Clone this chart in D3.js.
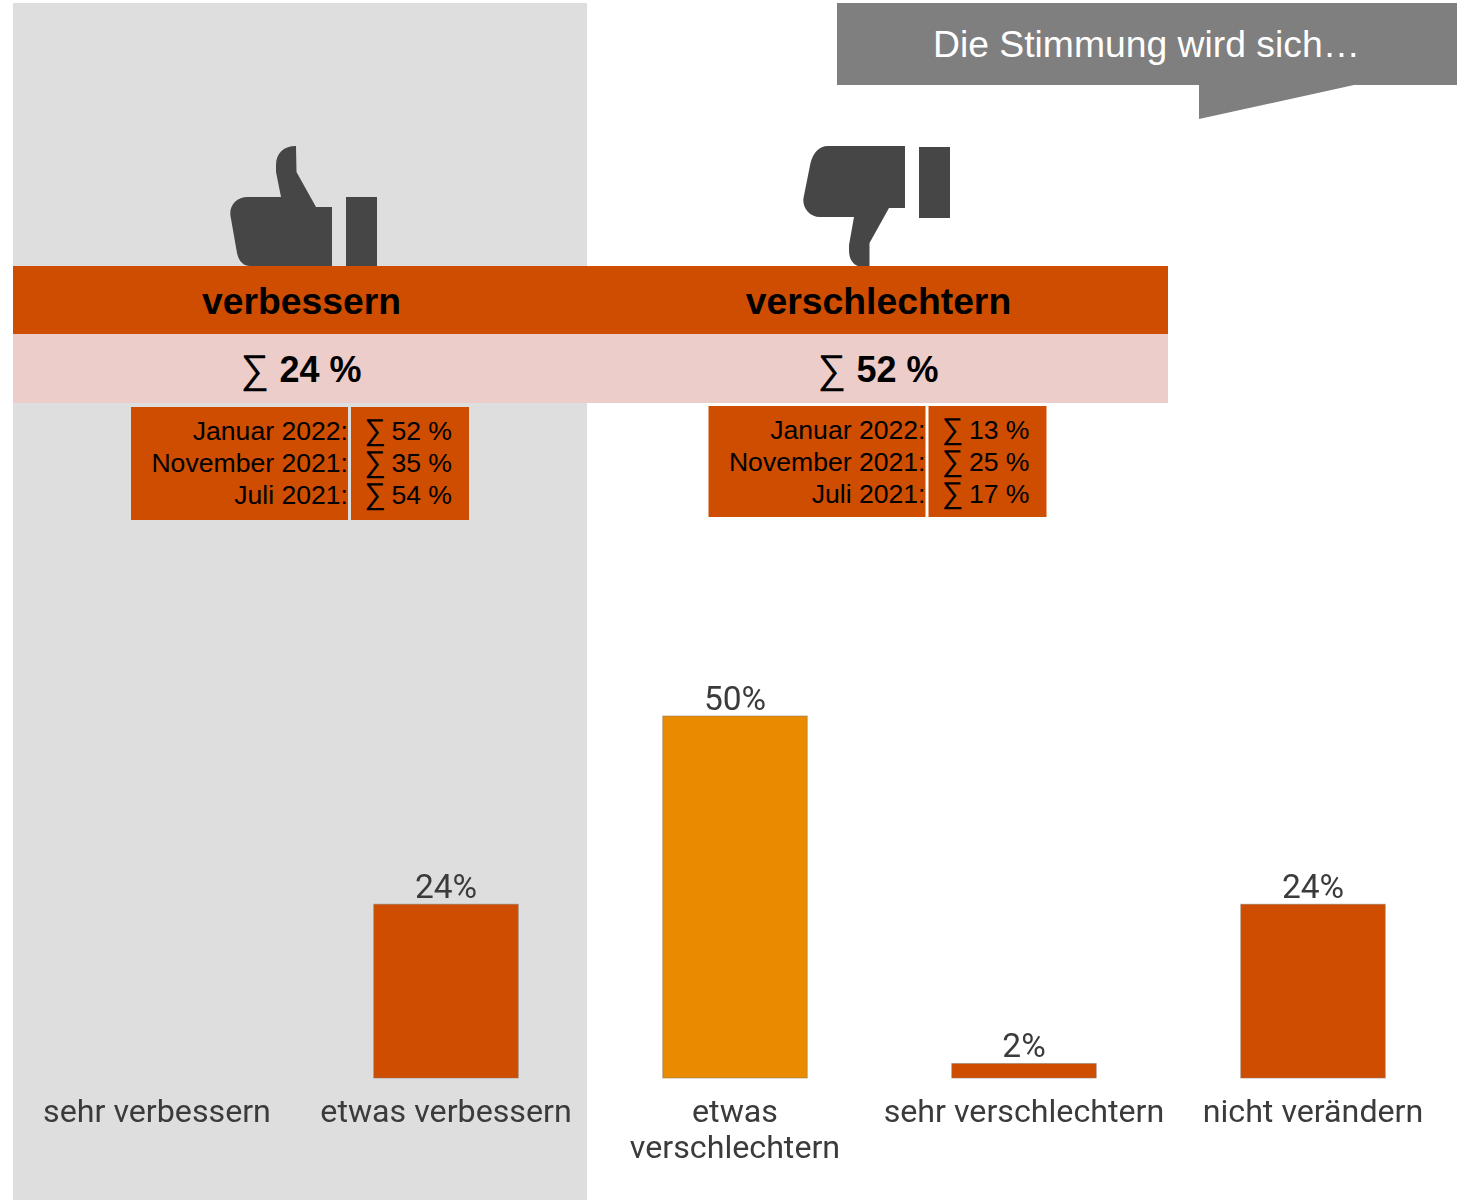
<!DOCTYPE html>
<html lang="de">
<head>
<meta charset="utf-8">
<title>Die Stimmung wird sich…</title>
<script src="https://cdn.jsdelivr.net/npm/d3@7/dist/d3.min.js"></script>
<style>
  html, body { margin: 0; padding: 0; background: #fff; }
  svg { display: block; }
  text { font-family: "Liberation Sans", Arial, sans-serif; }
  .chart text { font-family: Roboto, sans-serif; fill: #3a3a3a; }
</style>
</head>
<body>
<svg id="chart" width="1471" height="1200"></svg>
<script>
// Survey answers and their shares in percent
const categories = ["sehr verbessern", "etwas verbessern", "etwas verschlechtern", "sehr verschlechtern", "nicht verändern"];
const shares = [null, 24, 50, 2, 24];
const barColors = ["#cf4d00", "#cf4d00", "#e98a00", "#cf4d00", "#cf4d00"];

// Group headings and their totals
const groupNames = ["verbessern", "verschlechtern"];
const groupTotals = [24, 52];
const groupCenters = [302, 879];

// Totals of earlier survey waves
const waves = ["Januar 2022:", "November 2021:", "Juli 2021:"];
const improveHistory = [52, 35, 54];
const worsenHistory = [13, 25, 17];

const ORANGE = "#cf4d00";
const svg = d3.select("#chart");

// The column chart is a slightly soft raster in the slide
svg.append("defs").append("filter")
  .attr("id", "soft")
  .attr("x", "-5%").attr("y", "-5%").attr("width", "110%").attr("height", "110%")
  .append("feGaussianBlur").attr("stdDeviation", 0.7);

// Grey panel behind the "improve" half
svg.append("rect").attr("x", 13).attr("y", 3).attr("width", 574).attr("height", 1197).attr("fill", "#dedede");

// Speech-bubble heading
svg.append("path")
  .attr("d", "M837,3H1457V85H1354L1199,119V85H837Z")
  .attr("fill", "#7f7f7f");
svg.append("text")
  .attr("x", 1146.5).attr("y", 57)
  .attr("text-anchor", "middle")
  .attr("font-size", 37.3)
  .attr("fill", "#fff")
  .text("Die Stimmung wird sich…");

// Thumb icons
const ICON = "#464646";
svg.append("path")
  .attr("d", "M296,146C284,146 276,153 276,165V172L281,197H248C236,197 229,206 230.5,216L237,253C239,262 244,266 250,266H332V207H316L296.5,172Z")
  .attr("fill", ICON);
svg.append("rect").attr("x", 346).attr("y", 197).attr("width", 31).attr("height", 69).attr("fill", ICON);
svg.append("path")
  .attr("d", "M905,146V208H889L869.5,243V266H858C852,264 849,258 849,250V245L854,217H820C809,217 802,207 803.5,198L810.5,163C813,153 819,146 828,146Z")
  .attr("fill", ICON);
svg.append("rect").attr("x", 919).attr("y", 147).attr("width", 31).attr("height", 71).attr("fill", ICON);

// Heading band and totals band
svg.append("rect").attr("x", 13).attr("y", 266).attr("width", 1155).attr("height", 68).attr("fill", ORANGE);
svg.append("rect").attr("x", 13).attr("y", 334).attr("width", 1155).attr("height", 69).attr("fill", "#edcdca");

groupNames.forEach((name, i) => {
  svg.append("text")
    .attr("x", groupCenters[i] - 0.5).attr("y", 314)
    .attr("text-anchor", "middle")
    .attr("font-size", 37.3).attr("font-weight", 700).attr("fill", "#000")
    .text(name);
  svg.append("text")
    .attr("x", groupCenters[i] - 61.5).attr("y", 383)
    .attr("font-size", 40).attr("fill", "#000")
    .text("∑");
  svg.append("text")
    .attr("x", groupCenters[i] + 59.5).attr("y", 382)
    .attr("text-anchor", "end")
    .attr("font-size", 36).attr("font-weight", 700).attr("fill", "#000")
    .text(`${groupTotals[i]} %`);
});

// Tables with the earlier waves
function waveTable(x, top, height, firstBaseline, history) {
  const g = svg.append("g");
  g.append("rect").attr("x", x).attr("y", top).attr("width", 217).attr("height", height).attr("fill", ORANGE);
  g.append("rect").attr("x", x + 220).attr("y", top).attr("width", 118).attr("height", height).attr("fill", ORANGE);
  waves.forEach((wave, i) => {
    const y = firstBaseline + i * 32;
    g.append("text")
      .attr("x", x + 217).attr("y", y)
      .attr("text-anchor", "end")
      .attr("font-size", 26.6).attr("fill", "#000")
      .text(wave);
    g.append("text")
      .attr("x", x + 233.5).attr("y", y)
      .attr("font-size", 30).attr("fill", "#000")
      .text("∑");
    g.append("text")
      .attr("x", x + 321).attr("y", y)
      .attr("text-anchor", "end")
      .attr("font-size", 26.6).attr("fill", "#000")
      .text(`${history[i]} %`);
  });
}
waveTable(131, 407, 113, 440, improveHistory);
waveTable(708.5, 406, 111, 439, worsenHistory);

// Column chart
const x = d3.scaleBand()
  .domain(categories)
  .range([12.5, 1457.5])
  .paddingInner(0.5)
  .paddingOuter(0.25);
const y = d3.scaleLinear().domain([0, 50]).range([1078, 716]);

const chart = svg.append("g").attr("class", "chart").attr("filter", "url(#soft)");
const rows = categories.map((c, i) => ({ c, v: shares[i], color: barColors[i] }));

chart.selectAll("rect")
  .data(rows.filter(d => d.v !== null))
  .join("rect")
  .attr("x", d => x(d.c))
  .attr("y", d => y(d.v))
  .attr("width", x.bandwidth())
  .attr("height", d => y(0) - y(d.v))
  .attr("fill", d => d.color)
  .attr("stroke", "#8a7a6a")
  .attr("stroke-opacity", 0.55)
  .attr("stroke-width", 1);

chart.selectAll("text.value")
  .data(rows.filter(d => d.v !== null))
  .join("text")
  .attr("class", "value")
  .attr("x", d => x(d.c) + x.bandwidth() / 2)
  .attr("y", d => y(d.v) - 6.5)
  .attr("text-anchor", "middle")
  .attr("font-size", 33.5)
  .text(d => `${d.v}%`);

// Category labels; the long one breaks onto a second line
const labelLines = c => c === "etwas verschlechtern" ? c.split(" ") : [c];
chart.selectAll("text.cat")
  .data(rows)
  .join("text")
  .attr("class", "cat")
  .attr("text-anchor", "middle")
  .attr("font-size", 32.2)
  .each(function (d) {
    const t = d3.select(this);
    labelLines(d.c).forEach((line, i) => {
      t.append("tspan")
        .attr("x", x(d.c) + x.bandwidth() / 2)
        .attr("y", 1122 + i * 36)
        .text(line);
    });
  });
</script>
</body>
</html>
